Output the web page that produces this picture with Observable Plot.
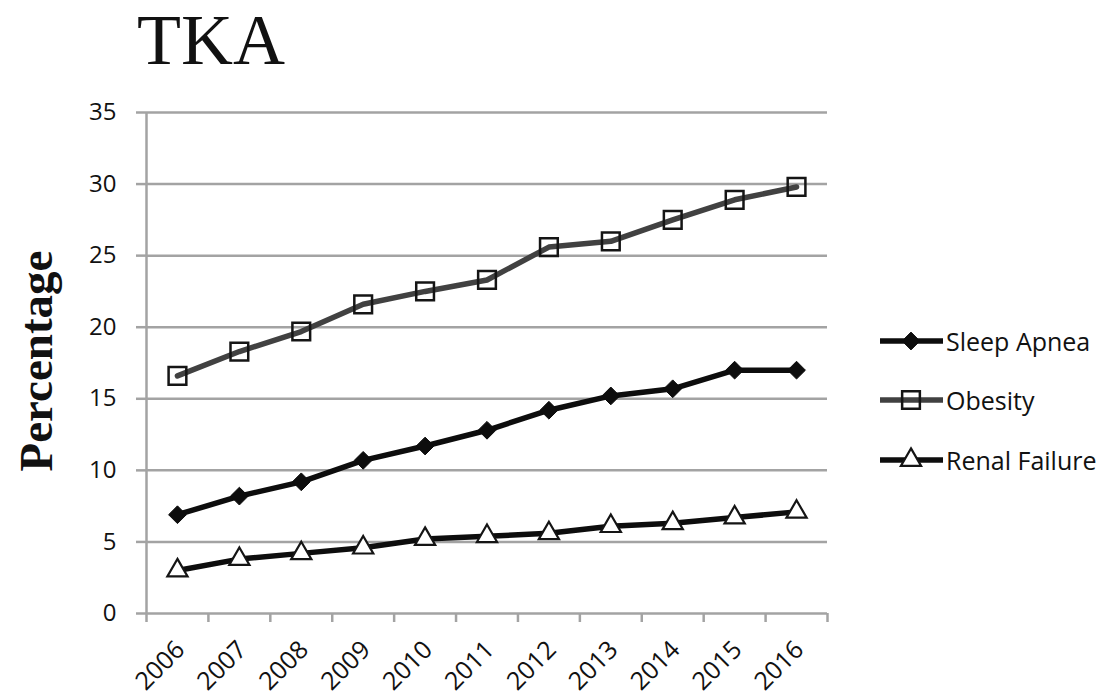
<!DOCTYPE html>
<html>
<head>
<meta charset="utf-8">
<script src="https://cdn.jsdelivr.net/npm/d3@7"></script>
<script src="https://cdn.jsdelivr.net/npm/@observablehq/plot@0.6"></script>
<style>
  html, body { margin: 0; padding: 0; background: #fff; }
  #wrap { position: relative; width: 1107px; height: 696px; overflow: hidden; background: #fff; }
  #title { box-sizing: border-box; height: 88px; padding-top: 4px; font-family: "Liberation Serif", "Times New Roman", serif; font-size: 72px; line-height: 72px; padding-left: 137px; color: #111; }
  #ylabel { position: absolute; left: 36px; top: 361px; transform: translate(-50%, -50%) rotate(-90deg);
            font-family: "Liberation Serif", "Times New Roman", serif; font-weight: bold; font-size: 47px; line-height: 47px; white-space: nowrap; color: #111; }
  .leg { position: absolute; left: 880px; height: 28px; display: flex; align-items: center;
         font-family: "Open Sans", sans-serif; font-size: 25px; line-height: 28px; color: #111; white-space: nowrap; }
  .leg svg { display: block; margin-right: 3px; }
</style>
</head>
<body>
<div id="wrap">
  <div id="title">TKA</div>
  <div id="chart"></div>
  <div id="ylabel">Percentage</div>
  <div id="legend"></div>
</div>
<script>
// ---- data ----
const years = [2006, 2007, 2008, 2009, 2010, 2011, 2012, 2013, 2014, 2015, 2016];
const sleepApnea = [6.9, 8.2, 9.2, 10.7, 11.7, 12.8, 14.2, 15.2, 15.7, 17.0, 17.0];
const obesity = [16.6, 18.3, 19.7, 21.6, 22.5, 23.3, 25.6, 26.0, 27.5, 28.9, 29.8];
const renalFailure = [3.0, 3.8, 4.2, 4.6, 5.2, 5.4, 5.6, 6.1, 6.3, 6.7, 7.1];
const yTicks = [0, 5, 10, 15, 20, 25, 30, 35];
const seriesNames = ["Sleep Apnea", "Obesity", "Renal Failure"];

// ---- build tables ----
const toRows = (vals, name) => years.map((yr, i) => ({year: yr, value: vals[i], series: name}));
const sleepRows = toRows(sleepApnea, seriesNames[0]);
const obesityRows = toRows(obesity, seriesNames[1]);
const renalRows = toRows(renalFailure, seriesNames[2]);
const edges = [...years.map(y => y - 0.5), years[years.length - 1] + 0.5];

const gridColor = "#a3a3a3";
const styles = {
  "Sleep Apnea": {line: "#0d0d0d", symbol: "diamond2", fill: "#0d0d0d", stroke: "#0d0d0d", r: 8, sw: 1},
  "Obesity": {line: "#414141", symbol: "square", fill: "none", stroke: "#151515", r: 10, sw: 2.5},
  "Renal Failure": {line: "#0d0d0d", symbol: "triangle", fill: "#fff", stroke: "#151515", r: 7.5, sw: 2.2}
};

const seriesMarks = (rows, name) => {
  const s = styles[name];
  return [
    Plot.line(rows, {x: "year", y: "value", stroke: s.line, strokeWidth: 5.5}),
    Plot.dot(rows, {x: "year", y: "value", symbol: () => s.symbol, fill: s.fill, stroke: s.stroke, strokeWidth: s.sw, r: s.r})
  ];
};

const chart = Plot.plot({
  width: 1107,
  height: 608,
  marginLeft: 146,
  marginRight: 280,
  marginTop: 24,
  marginBottom: 83,
  style: {fontFamily: "'Open Sans', sans-serif", fontSize: "24px", background: "#fff", color: "#111", overflow: "visible"},
  x: {domain: [years[0] - 0.5, years[years.length - 1] + 0.5], axis: null},
  y: {domain: [0, 35], axis: null},
  symbol: {type: "identity"},
  marks: [
    Plot.gridY(yTicks, {stroke: gridColor, strokeOpacity: 1, strokeWidth: 2.5}),
    Plot.ruleX([edges[0]], {stroke: gridColor, strokeWidth: 2.5}),
    Plot.axisY(yTicks, {tickSize: 10, tickPadding: 20, stroke: gridColor, strokeWidth: 2.5, fill: "#111", label: null}),
    Plot.axisX(edges, {tickSize: 9, stroke: gridColor, strokeWidth: 2.5, tickFormat: () => "", label: null}),
    Plot.axisX(years, {tickSize: 0, tickPadding: 32, dx: 3, tickRotate: -45, fontSize: 25, tickFormat: d => String(d), fill: "#111", label: null}),
    ...seriesMarks(obesityRows, "Obesity"),
    ...seriesMarks(sleepRows, "Sleep Apnea"),
    ...seriesMarks(renalRows, "Renal Failure")
  ]
});
document.getElementById("chart").appendChild(chart);

// ---- legend ----
const legendCenters = {"Sleep Apnea": 341, "Obesity": 400, "Renal Failure": 460};
const symbolTypes = {diamond2: d3.symbolDiamond2, square: d3.symbolSquare, triangle: d3.symbolTriangle};
const legend = document.getElementById("legend");
seriesNames.forEach(name => {
  const s = styles[name];
  const item = document.createElement("div");
  item.className = "leg";
  item.style.top = (legendCenters[name] - 14) + "px";
  const path = d3.symbol(symbolTypes[s.symbol], Math.PI * s.r * s.r)();
  item.innerHTML = `<svg width="63" height="28" viewBox="0 0 63 28">
      <line x1="0" x2="62" y1="14" y2="14" stroke="${s.line}" stroke-width="5.5" stroke-linecap="round"/>
      <path d="${path}" transform="translate(31,14)" fill="${s.fill}" stroke="${s.stroke}" stroke-width="${s.sw}"/>
    </svg><span>${name}</span>`;
  legend.appendChild(item);
});
</script>
</body>
</html>
